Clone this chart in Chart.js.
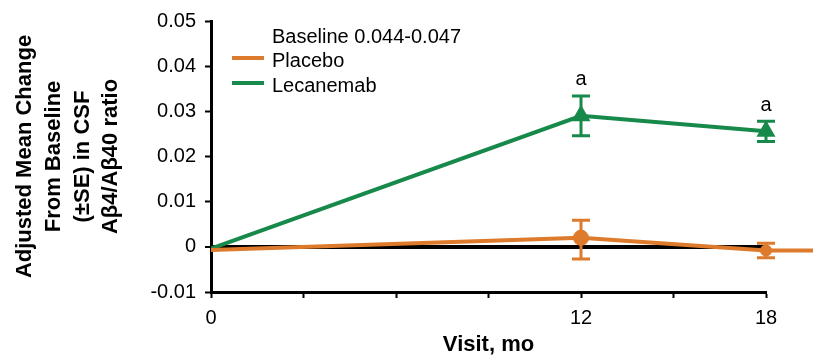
<!DOCTYPE html>
<html>
<head>
<meta charset="utf-8">
<script src="https://cdn.jsdelivr.net/npm/chart.js@4"></script>
<style>
  html, body { margin: 0; padding: 0; background: #fff; }
  #wrap { width: 813px; height: 358px; }
</style>
</head>
<body>
<div id="wrap"><canvas id="csf-ratio-chart" width="813" height="358"></canvas></div>
<script>
// values
const xTickLabels = [0, 12, 18];
const xAxisEnd = 18;
const yTickValues = [-0.01, 0, 0.01, 0.02, 0.03, 0.04, 0.05];

const placeboVisits = [0, 12, 18, 20];
const placeboMean = [-0.0007, 0.0020, -0.0008, -0.0008];
const placeboLow = [null, -0.0027, -0.0024, null];
const placeboHigh = [null, 0.0059, 0.0008, null];

const lecanemabVisits = [0, 12, 18];
const lecanemabMean = [-0.0004, 0.0290, 0.0256];
const lecanemabLow = [null, 0.0246, 0.0233];
const lecanemabHigh = [null, 0.0334, 0.0278];
const lecanemabSig = ['', 'a', 'a'];

const legendHeader = 'Baseline 0.044-0.047';

const ORANGE = '#DD7A2B';
const GREEN = '#17894A';
const FONT = '"Liberation Sans", Arial, sans-serif';

function toPoints(xs, ys) {
    return xs.map(function (x, i) { return { x: x, y: ys[i] }; });
}

// error bars + significance letters
const errorBars = {
    id: 'errorBars',
    afterDatasetsDraw: function (chart) {
        const ctx = chart.ctx;
        const xs = chart.scales.x, ys = chart.scales.y;
        chart.data.datasets.forEach(function (ds) {
            if (!ds.errLow) return;
            ctx.save();
            ctx.strokeStyle = ds.borderColor;
            ctx.lineWidth = 3;
            ds.data.forEach(function (p, i) {
                if (ds.errLow[i] == null) return;
                const px = xs.getPixelForValue(p.x);
                const lo = ys.getPixelForValue(ds.errLow[i]);
                const hi = ys.getPixelForValue(ds.errHigh[i]);
                ctx.beginPath();
                ctx.moveTo(px, lo); ctx.lineTo(px, hi);
                ctx.moveTo(px - 9, lo); ctx.lineTo(px + 9, lo);
                ctx.moveTo(px - 9, hi); ctx.lineTo(px + 9, hi);
                ctx.stroke();
                if (ds.sig && ds.sig[i]) {
                    ctx.fillStyle = '#000';
                    ctx.font = '20px ' + FONT;
                    ctx.textAlign = 'center';
                    ctx.textBaseline = 'bottom';
                    ctx.fillText(ds.sig[i], px, hi - 6);
                }
            });
            ctx.restore();
        });
    }
};

// legend drawn inside the plot area
const innerLegend = {
    id: 'innerLegend',
    afterDraw: function (chart) {
        const ctx = chart.ctx;
        const left = chart.chartArea.left;
        const top = chart.chartArea.top;
        ctx.save();
        ctx.font = '20px ' + FONT;
        ctx.textAlign = 'left';
        ctx.textBaseline = 'middle';
        ctx.fillStyle = '#000';
        ctx.fillText(legendHeader, left + 61, top + 16);
        chart.data.datasets.forEach(function (ds, i) {
            const y = top + 39 + i * 25;
            ctx.strokeStyle = ds.borderColor;
            ctx.lineWidth = 4;
            ctx.beginPath();
            ctx.moveTo(left + 21, y - 2);
            ctx.lineTo(left + 53, y - 2);
            ctx.stroke();
            ctx.fillStyle = '#000';
            ctx.fillText(ds.label, left + 61, y + 1);
        });
        ctx.restore();
    }
};

const ctx = document.getElementById('csf-ratio-chart');

new Chart(ctx, {
    type: 'line',
    data: {
        datasets: [{
            label: 'Placebo',
            data: toPoints(placeboVisits, placeboMean),
            errLow: placeboLow,
            errHigh: placeboHigh,
            borderColor: ORANGE,
            backgroundColor: ORANGE,
            borderWidth: 4,
            pointStyle: 'circle',
            pointRadius: [0, 6, 4, 0],
            pointHoverRadius: [0, 6, 4, 0],
            tension: 0,
            clip: false
        }, {
            label: 'Lecanemab',
            data: toPoints(lecanemabVisits, lecanemabMean),
            errLow: lecanemabLow,
            errHigh: lecanemabHigh,
            sig: lecanemabSig,
            borderColor: GREEN,
            backgroundColor: GREEN,
            borderWidth: 4,
            pointStyle: 'triangle',
            pointRadius: [0, 7, 7],
            pointHoverRadius: [0, 7, 7],
            tension: 0
        }]
    },
    options: {
        responsive: false,
        animation: false,
        layout: { padding: { left: 11, right: 47, top: 18, bottom: 0 } },
        plugins: {
            legend: { display: false },
            tooltip: { enabled: false }
        },
        scales: {
            x: {
                type: 'linear',
                min: 0,
                // axis stops at 18 but the placebo line runs on past it
                afterDataLimits: function (scale) { scale.max = xAxisEnd; },
                border: { color: '#000', width: 3 },
                grid: {
                    drawOnChartArea: false,
                    color: '#000',
                    tickColor: '#000',
                    tickLength: 6,
                    tickWidth: 2
                },
                ticks: {
                    stepSize: 3,
                    autoSkip: false,
                    maxRotation: 0,
                    padding: 8,
                    color: '#000',
                    font: { family: FONT, size: 20 },
                    callback: function (v) { return xTickLabels.indexOf(v) >= 0 ? String(v) : ''; }
                },
                title: {
                    display: true,
                    text: 'Visit, mo',
                    color: '#000',
                    padding: { top: 0, bottom: 0 },
                    font: { family: FONT, size: 22, weight: 'bold' }
                },
                afterFit: function (scale) { scale.height = 66; }
            },
            y: {
                min: -0.01,
                max: 0.05,
                border: { color: '#000', width: 3 },
                grid: {
                    drawOnChartArea: true,
                    color: function (c) { return c.tick && c.tick.value === 0 ? '#000' : 'rgba(0,0,0,0)'; },
                    lineWidth: function (c) { return c.tick && c.tick.value === 0 ? 4 : 1; },
                    tickColor: '#000',
                    tickLength: 6,
                    tickWidth: 2
                },
                afterBuildTicks: function (scale) {
                    scale.ticks = yTickValues.map(function (v) { return { value: v }; });
                },
                ticks: {
                    padding: 9,
                    color: '#000',
                    font: { family: FONT, size: 20 },
                    callback: function (v) { return String(Number(v.toFixed(2))); }
                },
                title: {
                    display: true,
                    text: ['Adjusted Mean Change', 'From Baseline', '(\u00b1SE) in CSF', 'A\u03b24/A\u03b240 ratio'],
                    color: '#000',
                    padding: { top: 0, bottom: 0 },
                    font: { family: FONT, size: 22, weight: 'bold', lineHeight: 1.3 }
                },
                afterFit: function (scale) { scale.width = 200; }
            }
        }
    },
    plugins: [errorBars, innerLegend]
});
</script>
</body>
</html>
